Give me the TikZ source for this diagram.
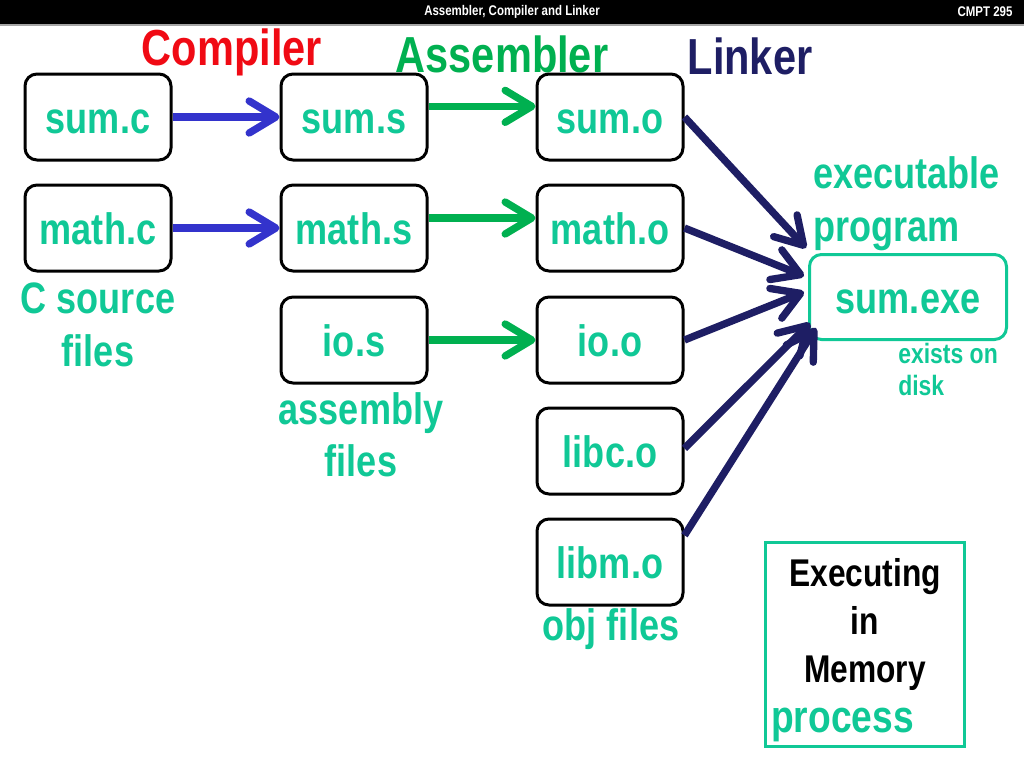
\documentclass[tikz,border=0pt]{standalone}
\usepackage{fontspec}
\setmainfont{Liberation Sans}[FakeStretch=0.82]
\usepackage{tikz}
\usetikzlibrary{arrows.meta}

\definecolor{tealtxt}{RGB}{16,200,150}
\definecolor{compred}{RGB}{240,10,20}
\definecolor{asmgreen}{RGB}{0,176,80}
\definecolor{linknavy}{RGB}{30,30,100}
\definecolor{compblue}{RGB}{51,51,204}

\newcommand{\bigfont}{\fontsize{38}{42}\selectfont\bfseries}
\newcommand{\filefont}{\fontsize{33}{40}\selectfont\bfseries}
\newcommand{\smallfont}{\fontsize{21}{24}\selectfont\bfseries}

\tikzset{
  filebox/.style={draw=black, line width=2.25pt, rounded corners=9pt, minimum width=109.5pt, minimum height=64.5pt, inner sep=0pt, text height=24pt, text depth=0pt, text=tealtxt, font=\filefont},
  lbl/.style={inner sep=0pt, font=\filefont, text=tealtxt},
  bar/.style={line width=5.5pt, -{Straight Barb[length=20pt,width=24pt,round]}},
}

\begin{document}
\begin{tikzpicture}[x=0.75pt,y=0.75pt,yscale=-1,xscale=1]
\useasboundingbox (0,0) rectangle (1024,768);

%Header
\fill[black] (0,0) rectangle (1024,24);
\draw[gray!70, line width=1pt] (0,25) -- (1024,25);
\node[text=white, font=\fontsize{10.5}{12}\selectfont\bfseries] (title) at (512,12) {Assembler, Compiler and Linker};
\node[text=white, font=\fontsize{10.5}{12}\selectfont\bfseries] (course) at (985,12) {CMPT 295};

%Stage titles
\node[inner sep=0pt, font=\bigfont, text=compred] (comp) at (232,52) {Compiler};
\node[inner sep=0pt, font=\bigfont, text=asmgreen] (asm) at (502,54) {Assembler};
\node[inner sep=0pt, font=\bigfont, text=linknavy] (link) at (750,56) {Linker};

%Source files
\node[filebox] (sumc) at (98,117) {sum.c};
\node[filebox] (mathc) at (98,228) {math.c};
\node[lbl, anchor=base] (srclbl) at (98,313) {C source};
\node[lbl, anchor=base] (srclbl2) at (98,366) {files};

%Assembly files
\node[filebox] (sums) at (354,117) {sum.s};
\node[filebox] (maths) at (354,228) {math.s};
\node[filebox] (ios) at (354,340) {io.s};
\node[lbl, anchor=base] (asmlbl) at (361,424) {assembly};
\node[lbl, anchor=base] (asmlbl2) at (361,476) {files};

%Object files
\node[filebox] (sumo) at (610,117) {sum.o};
\node[filebox] (matho) at (610,228) {math.o};
\node[filebox] (ioo) at (610,340) {io.o};
\node[filebox] (libco) at (610,451) {libc.o};
\node[filebox] (libmo) at (610,562) {libm.o};
\node[lbl, anchor=base] (objlbl) at (611,640) {obj files};

%Executable
\node[filebox, draw=tealtxt, minimum width=147.75pt, minimum height=63.75pt] (exe) at (908,297) {sum.exe};
\node[lbl, anchor=base west] (exelbl) at (813,188) {executable};
\node[lbl, anchor=base west] (exelbl2) at (813,241) {program};
\node[inner sep=0pt, font=\smallfont, text=tealtxt, anchor=base west] (disklbl) at (898,363) {exists on};
\node[inner sep=0pt, font=\smallfont, text=tealtxt, anchor=base west] (disklbl2) at (898,395) {disk};

%Memory box
\node[draw=tealtxt, line width=2.25pt, minimum width=149.25pt, minimum height=153pt, inner sep=0pt] (membox) at (864.5,644) {};
\node[inner sep=0pt, font=\fontsize{29}{36}\selectfont\bfseries, anchor=base] (memtxt) at (865,586) {Executing};
\node[inner sep=0pt, font=\fontsize{29}{36}\selectfont\bfseries, anchor=base] (memtxt2) at (865,634) {in};
\node[inner sep=0pt, font=\fontsize{29}{36}\selectfont\bfseries, anchor=base] (memtxt3) at (865,682) {Memory};
\node[lbl, anchor=base west, font=\fontsize{34}{38}\selectfont\bfseries] (proc) at (771,732) {process};

%Compiler arrows
\draw[bar, compblue] (sumc.east) -- (sums.west);
\draw[bar, compblue] (mathc.east) -- (maths.west);

%Assembler arrows
\draw[bar, asmgreen] ([yshift=-8pt]sums.east) -- ([yshift=-8pt]sumo.west);
\draw[bar, asmgreen] ([yshift=-7.5pt]maths.east) -- ([yshift=-7.5pt]matho.west);
\draw[bar, asmgreen] (ios.east) -- (ioo.west);

%Linker arrows
\coordinate (in1) at (806,248);
\coordinate (in2) at (804,276);
\coordinate (in3) at (804,292);
\coordinate (in4) at (810,323);
\coordinate (in5) at (816,328);
\draw[bar, linknavy] (sumo.east) -- (in1);
\draw[bar, linknavy] (matho.east) -- (in2);
\draw[bar, linknavy] (ioo.east) -- (in3);
\draw[bar, linknavy] ([yshift=-2pt]libco.east) -- (in4);
\draw[bar, linknavy] ([yshift=-20pt]libmo.east) -- (in5);

\end{tikzpicture}
\end{document}
